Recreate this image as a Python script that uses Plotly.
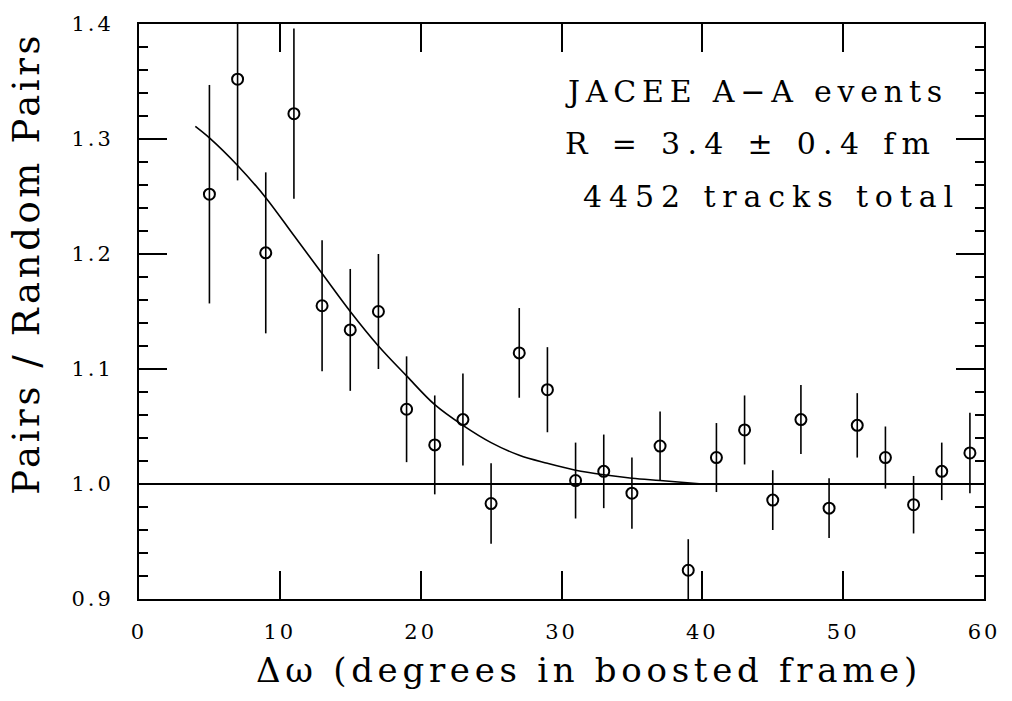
import plotly.graph_objects as go

# Data
x_pts = [5, 7, 9, 11, 13, 15, 17, 19, 21, 23, 25, 27, 29, 31, 33, 35, 37, 39,
         41, 43, 45, 47, 49, 51, 53, 55, 57, 59]
y_pts = [1.252, 1.352, 1.201, 1.322, 1.155, 1.134, 1.150, 1.065, 1.034, 1.056,
         0.983, 1.114, 1.082, 1.003, 1.011, 0.992, 1.033, 0.925, 1.023, 1.047,
         0.986, 1.056, 0.979, 1.051, 1.023, 0.982, 1.011, 1.027]
y_err = [0.095, 0.088, 0.070, 0.074, 0.057, 0.053, 0.050, 0.046, 0.043, 0.040,
         0.035, 0.039, 0.037, 0.033, 0.032, 0.031, 0.030, 0.027, 0.030, 0.030,
         0.026, 0.030, 0.026, 0.028, 0.027, 0.025, 0.025, 0.035]

fit_x = [4, 5, 7, 9, 11, 13, 15, 17, 19, 21, 23, 25, 27, 29, 31, 33, 35, 37, 40]
fit_y = [1.311, 1.301, 1.277, 1.249, 1.216, 1.183, 1.150, 1.120, 1.094, 1.069,
         1.051, 1.036, 1.025, 1.018, 1.012, 1.008, 1.005, 1.003, 1.000]

ref_x = [0, 60]
ref_y = [1.0, 1.0]

x_ticks = [0, 10, 20, 30, 40, 50, 60]
x_tick_labels = ["0", "10", "20", "30", "40", "50", "60"]
y_ticks = [0.9, 1.0, 1.1, 1.2, 1.3, 1.4]
y_tick_labels = ["0.9", "1.0", "1.1", "1.2", "1.3", "1.4"]

info_lines = ["JACEE A\u2212A events", "R = 3.4 \u00b1 0.4 fm", "4452 tracks total"]
info_x = [30.1, 30.1, 31.4]
info_y = [1.341, 1.296, 1.250]
info_spacing = [5.8, 7.3, 6.9]

x_title = "\u0394\u03c9 (degrees in boosted frame)"
y_title = "Pairs / Random Pairs"

FONT = "DejaVu Serif"


def spaced(text, px):
    return '<span style="letter-spacing:%.1fpx">%s</span>' % (px, text)


fig = go.Figure()
fig.add_trace(go.Scatter(x=ref_x, y=ref_y, mode="lines",
                         line=dict(color="black", width=2), showlegend=False))
fig.add_trace(go.Scatter(x=fit_x, y=fit_y, mode="lines",
                         line=dict(color="black", width=1.6, shape="spline"),
                         showlegend=False))
fig.add_trace(go.Scatter(
    x=x_pts, y=y_pts, mode="markers", showlegend=False,
    marker=dict(symbol="circle-open", size=11, color="black",
                line=dict(width=2, color="black")),
    error_y=dict(type="data", array=y_err, color="black", thickness=1.6, width=0)))

for t, xx, yy, sp in zip(info_lines, info_x, info_y, info_spacing):
    fig.add_annotation(x=xx, y=yy, xref="x", yref="y", text=spaced(t, sp),
                       showarrow=False, xanchor="left", yanchor="middle",
                       font=dict(family=FONT, size=30, color="black"))

# axis titles
fig.add_annotation(x=0.532, y=-0.123, xref="paper", yref="paper",
                   text=spaced(x_title, 4.7), showarrow=False,
                   xanchor="center", yanchor="middle",
                   font=dict(family=FONT, size=34, color="black"))
fig.add_annotation(x=-0.133, y=0.584, xref="paper", yref="paper",
                   text=spaced(y_title, 3.6), showarrow=False, textangle=-90,
                   xanchor="center", yanchor="middle",
                   font=dict(family=FONT, size=37, color="black"))

fig.update_layout(
    width=1012, height=701,
    margin=dict(l=139, r=18, t=22, b=102),
    paper_bgcolor="white", plot_bgcolor="white",
    font=dict(family=FONT, color="black"),
)
fig.update_xaxes(
    range=[0, 60], tickvals=x_ticks,
    ticktext=[spaced(s, 3) for s in x_tick_labels],
    ticks="inside", ticklen=28, tickwidth=1.6,
    tickcolor="black", showline=True, linewidth=2, linecolor="black",
    mirror="ticks", showgrid=False, zeroline=False,
    tickfont=dict(family=FONT, size=21, color="black"), ticklabelstandoff=13,
)
fig.update_yaxes(
    range=[0.9, 1.4], tickvals=y_ticks,
    ticktext=[spaced(s, 3) for s in y_tick_labels], ticks="inside",
    ticklen=28, tickwidth=1.6, tickcolor="black", showline=True, linewidth=2,
    linecolor="black", mirror="ticks", showgrid=False, zeroline=False,
    minor=dict(dtick=0.02, tick0=0.9, ticks="inside", ticklen=9, tickwidth=1.6,
               tickcolor="black", showgrid=False),
    tickfont=dict(family=FONT, size=21, color="black"), ticklabelstandoff=19,
)

fig.write_html("out.html")
